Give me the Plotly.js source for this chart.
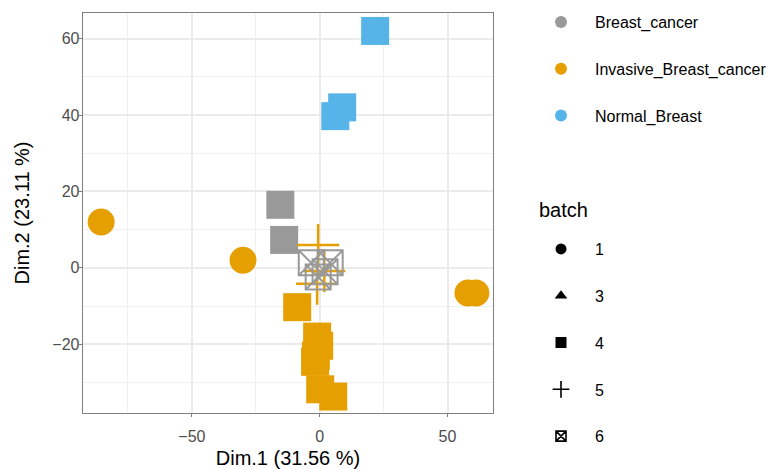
<!DOCTYPE html>
<html>
<head>
<meta charset="utf-8">
<script src="https://cdn.plot.ly/plotly-3.0.1.min.js"></script>
<style>html,body{margin:0;padding:0;background:#fff;}#chart{width:766px;height:469px;}</style>
</head>
<body>
<div id="chart"></div>
<script>
// Class labels and colours
const classes = ["Breast_cancer", "Invasive_Breast_cancer", "Normal_Breast"];
const classColors = ["#999999", "#E69F00", "#56B4E9"];
const batches = ["1", "3", "4", "5", "6"];

// Individuals (Dim.1, Dim.2) by class and batch
const inv_b1_x = [-85.5, -30.0, 58.0, 61.1];
const inv_b1_y = [12.0, 2.0, -6.6, -6.6];

const bc_b4_x = [-15.4, -13.9];
const bc_b4_y = [16.5, 7.3];

const nb_b4_x = [21.7, 8.8, 6.1];
const nb_b4_y = [62.0, 42.0, 39.7];

const inv_b4_x = [-8.8, -1.0, -0.2, -1.5, -1.8, 0.2, 5.3];
const inv_b4_y = [-10.3, -18.0, -20.4, -23.0, -24.6, -31.8, -33.7];

const inv_b5_x = [-0.6, 1.8, -1.0];
const inv_b5_y = [6.0, -0.8, -4.2];

const bc_b6_x = [-3.3, 4.1, -0.6, 2.1];
const bc_b6_y = [1.3, 1.3, -2.4, -1.0];

const xTicks = [-50, 0, 50];
const yTicks = [-20, 0, 20, 40, 60];

const FONT = "Liberation Sans, Arial, sans-serif";

function filled(x, y, color, symbol, size) {
  return {x: x, y: y, type: "scatter", mode: "markers", showlegend: false, hoverinfo: "skip",
    marker: {color: color, symbol: symbol, size: size, line: {width: 0}}};
}
function open(x, y, color, symbol, size, lw) {
  return {x: x, y: y, type: "scatter", mode: "markers", showlegend: false, hoverinfo: "skip",
    marker: {color: color, symbol: symbol, size: size, line: {color: color, width: lw}}};
}

const traces = [
  filled(inv_b1_x, inv_b1_y, classColors[1], "circle", 27),
  filled(bc_b4_x, bc_b4_y, classColors[0], "square", 28),
  filled(nb_b4_x, nb_b4_y, classColors[2], "square", 28),
  filled(inv_b4_x, inv_b4_y, classColors[1], "square", 28),
  open(inv_b5_x, inv_b5_y, classColors[1], "cross-thin-open", 30, 2.5),
  open(bc_b6_x, bc_b6_y, classColors[0], "square-x-open", 25, 2)
];

// legend entries: class colours
classes.forEach(function(c, i) {
  traces.push({x: [null], y: [null], type: "scatter", mode: "markers", name: c,
    legend: "legend", legendgroup: "c" + i, showlegend: true,
    marker: {color: classColors[i], symbol: "circle", size: 12}});
});
// legend entries: batch shapes
const batchSymbols = ["circle", "triangle-up", "square", "cross-thin-open", "square-x-open"];
batches.forEach(function(b, i) {
  const sym = batchSymbols[i];
  const isOpen = sym.indexOf("open") >= 0;
  traces.push({x: [null], y: [null], type: "scatter", mode: "markers", name: b,
    legend: "legend2", legendgroup: "b" + i, showlegend: true,
    marker: {color: "#000000", symbol: sym, size: isOpen ? (sym === "cross-thin-open" ? 12 : 10) : 11,
      line: {color: "#000000", width: isOpen ? 1.6 : 0}}});
});

const axisCommon = {
  showline: true, mirror: true, linecolor: "#7F7F7F", linewidth: 1.3,
  ticks: "outside", ticklen: 3, tickcolor: "#7F7F7F", tickwidth: 1,
  showgrid: true, gridcolor: "#EBEBEB", gridwidth: 2, zeroline: false,
  tickfont: {family: FONT, size: 16, color: "#4D4D4D"}
};

const layout = {
  width: 766, height: 469,
  margin: {l: 82.5, r: 273, t: 12.5, b: 55.5},
  paper_bgcolor: "#FFFFFF", plot_bgcolor: "#FFFFFF",
  font: {family: FONT, color: "#000000"},
  xaxis: Object.assign({}, axisCommon, {
    range: [-92.6, 67.8], tickmode: "array", tickvals: xTicks, ticklabelstandoff: 5,
    minor: {tickvals: [-75, -25, 25], showgrid: true, gridcolor: "#F0F0F0", gridwidth: 1, ticks: ""},
    title: {text: "Dim.1 (31.56 %)", font: {family: FONT, size: 20, color: "#000000"}, standoff: 7}
  }),
  yaxis: Object.assign({}, axisCommon, {
    range: [-38.0, 66.7], tickmode: "array", tickvals: yTicks, ticklabelstandoff: -4,
    minor: {tickvals: [-30, -10, 10, 30, 50], showgrid: true, gridcolor: "#F0F0F0", gridwidth: 1, ticks: ""},
    title: {text: "Dim.2 (23.11 %)", font: {family: FONT, size: 20, color: "#000000"}, standoff: 17}
  }),
  legend: {
    xref: "container", yref: "container", x: 527 / 766, y: 1 - 5 / 469,
    xanchor: "left", yanchor: "top", itemwidth: 58, traceorder: "grouped", tracegroupgap: 23,
    font: {family: FONT, size: 16, color: "#000000"}, bgcolor: "rgba(0,0,0,0)"
  },
  legend2: {
    xref: "container", yref: "container", x: 527 / 766, y: 1 - 453 / 469,
    xanchor: "left", yanchor: "bottom", itemwidth: 58, traceorder: "grouped", tracegroupgap: 23,
    maxheight: 1,
    font: {family: FONT, size: 16, color: "#000000"}, bgcolor: "rgba(0,0,0,0)"
  },
  annotations: [{
    text: "batch", xref: "paper", yref: "paper",
    x: (537 - 82.5) / 410.5, y: (413.5 - 210) / 401, xanchor: "left", yanchor: "middle",
    showarrow: false, font: {family: FONT, size: 20, color: "#000000"}
  }],
  showlegend: true
};

Plotly.newPlot("chart", traces, layout, {staticPlot: true, displayModeBar: false});
</script>
</body>
</html>
